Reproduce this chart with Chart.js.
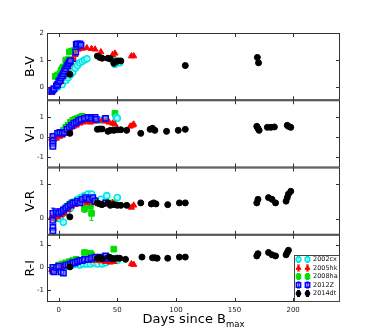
<!DOCTYPE html>
<html>
<head>
<meta charset="utf-8">
<script src="https://cdn.jsdelivr.net/npm/chart.js@4.4.0/dist/chart.umd.min.js"></script>
<style>
html, body { margin: 0; padding: 0; background: #fff; }
</style>
</head>
<body>
<canvas id="myChart" width="378" height="336"></canvas>
<script>
// colour curves, [day, colour, error]
var names = ["2002cx", "2005hk", "2008ha", "2012Z", "2014dt"];
var panels = ["B-V", "V-I", "V-R", "R-I"];
var xTicks = [0, 50, 100, 150, 200];

var cx02_BV = [[-1,0.0],[3,0.1],[6,0.25],[8,0.35],[10,0.45],[12,0.55],[14,0.7],[16,0.8],[18,0.9],[20,0.95],[22,1.0],[24,1.05],[46,1.0],[48,0.85,0.12],[50,0.95],[52,0.9]];
var hk05_BV = [[-6,-0.2],[-4,-0.1],[-1,0.05],[2,0.2],[4,0.4],[6,0.55],[8,0.75],[10,0.9],[12,1.05],[14,1.2],[17,1.4],[20,1.43],[24,1.45],[28,1.42],[31,1.4],[36,1.3],[42,1.05],[46,1.2],[48,1.25],[62,1.15],[64,1.15]];
var ha08_BV = [[-3,0.4],[-1,0.45],[1,0.5],[2,0.62],[3,0.7],[4,0.75],[6,1.0],[8,1.02],[9,1.3],[11,1.33],[13,1.35],[15,1.5],[47,1.0]];
var z12_BV = [[-6,-0.15],[-5,-0.1],[-4,-0.05],[-2,0.05],[-1,0.1],[0,0.2],[1,0.25],[2,0.35],[3,0.42],[4,0.5],[5,0.6],[6,0.68],[7,0.78],[8,0.85],[9,0.92],[10,0.98],[14.5,1.3,0.35],[15,1.58],[16,1.6],[18,1.6],[19,1.55]];
var dt14_BV = [[9.5,0.48],[33,1.15],[35,1.1],[37,1.07],[42,1.07],[44,1.05],[47,0.88],[49,0.95],[51,0.97],[53,0.97],[108,0.8,0.07],[169.5,1.1],[170.5,0.9]];

var cx02_VI = [[-4,0.05],[0,0.1],[3,0.2],[6,0.35],[9,0.5],[12,0.6],[15,0.7],[18,0.8],[21,0.85],[33,0.85],[36,0.85],[39,0.9],[49,1.0],[50,0.95]];
var hk05_VI = [[-6,-0.05],[-4,-0.1],[-2,-0.05],[1,0.05],[3,0.1],[5,0.2],[7,0.3],[9,0.4],[11,0.5],[13,0.55],[15,0.6],[18,0.7],[21,0.75],[24,0.8],[27,0.75],[30,0.8],[33,0.85],[37,0.85],[40,0.8],[43,0.75],[46,0.7],[48,0.65],[61,0.55],[63,0.6],[64,0.65]];
var ha08_VI = [[2,0.25],[4,0.35],[6,0.5],[8,0.6],[10,0.75],[12,0.85],[14,0.9],[16,0.95],[18,1.0],[20,1.05],[24,0.95],[28,1.0],[48,1.2]];
var z12_VI = [[-5,0.05,0.15],[-5,-0.15],[-5,-0.3],[-5,-0.45],[-1,0.2],[1,0.25],[3,0.2],[5,0.25],[7,0.4],[9,0.5],[11,0.6],[13,0.7],[15,0.75],[17,0.85],[19,0.9],[22,0.95],[25,1.0],[28,0.95],[31,1.0],[32,0.9],[40,0.95]];
var dt14_VI = [[9.5,0.2],[33,0.4],[35,0.42],[37,0.42],[42,0.3],[44,0.35],[47,0.35],[50,0.38],[53,0.38],[58,0.35],[70,0.2],[78,0.4],[80,0.45],[82,0.35],[92,0.3],[102,0.35],[108,0.4],[169,0.55],[170,0.45],[171,0.35],[178,0.5],[181,0.5],[184,0.52],[195,0.6],[196,0.55],[198,0.5]];

var cx02_VR = [[-2,0.1],[1,0.0],[4,-0.1,0.08],[7,0.2],[10,0.3],[13,0.45],[16,0.55],[19,0.6],[22,0.65],[25,0.7],[28,0.7],[36,0.55],[41,0.65,0.1],[50,0.6]];
var hk05_VR = [[-6,0.05],[-4,0.0],[-1,0.05],[2,0.1],[5,0.15],[8,0.25],[11,0.35],[14,0.4],[17,0.45],[20,0.5],[24,0.45],[27,0.5],[30,0.45],[34,0.42],[38,0.4],[42,0.42],[46,0.45],[62,0.32],[64,0.38]];
var ha08_VR = [[-2,0.0],[1,0.05],[3,0.15],[5,0.25],[7,0.35],[9,0.4],[11,0.45],[13,0.48],[16,0.5],[22,0.28,0.1],[27,0.35],[28,0.15,0.2],[46,0.45],[48,0.4]];
var z12_VR = [[-5,0.15,0.15],[-5,-0.05],[-5,-0.25],[-5,-0.35],[-2,0.2],[0,0.15],[2,0.2],[4,0.25],[6,0.3],[8,0.35],[10,0.4],[12,0.45],[14,0.45],[16,0.5],[18,0.45],[20,0.55],[23,0.6],[26,0.55],[29,0.6],[31,0.5,0.1],[40,0.45]];
var dt14_VR = [[9.5,0.05],[33,0.45],[35,0.42],[37,0.4],[42,0.45],[44,0.38],[47,0.4],[50,0.38],[53,0.38],[58,0.38],[70,0.45],[79,0.42],[81,0.45],[83,0.42],[93,0.4],[103,0.45],[108,0.45],[169,0.45],[170,0.55],[179,0.6],[182,0.55],[185,0.45],[194,0.5],[195,0.6],[196,0.7],[198,0.78]];

var cx02_RI = [[-3,-0.1],[0,-0.05],[3,0.0],[6,0.05],[9,0.1],[12,0.1],[15,0.15],[18,0.1],[21,0.15],[24,0.15],[27,0.15],[30,0.2],[33,0.15],[37,0.15],[40,0.2],[49,0.4],[50,0.3]];
var hk05_RI = [[-6,-0.1],[-4,-0.15],[-2,-0.05],[1,0.0],[4,0.05],[7,0.1],[10,0.15],[13,0.2],[16,0.25],[20,0.25],[24,0.3],[28,0.3],[32,0.3],[36,0.28],[40,0.25],[44,0.22],[47,0.25],[62,0.15],[64,0.12]];
var ha08_RI = [[0,0.1],[3,0.15],[6,0.2],[9,0.25],[12,0.3],[15,0.35],[18,0.3],[22,0.65],[27,0.62],[28,0.55],[47,0.8]];
var z12_RI = [[-5,0.0],[-5,-0.15],[-4,-0.2],[-2,0.0],[0,0.05],[2,-0.2],[4,-0.25],[6,0.1],[8,0.1],[10,0.15],[12,0.2],[14,0.2],[16,0.25],[18,0.3],[20,0.3],[22,0.35],[25,0.35],[28,0.4],[31,0.45],[36,0.45],[40,0.5],[42,0.4]];
var dt14_RI = [[9.5,0.02],[33,0.4],[35,0.42],[37,0.38],[43,0.45],[45,0.4],[47,0.38],[50,0.4],[52,0.4],[57,0.35],[71,0.45],[80,0.42],[82,0.42],[84,0.4],[93,0.4],[103,0.45],[108,0.45],[169,0.5],[170,0.6],[179,0.65],[182,0.55],[185,0.5],[194,0.55],[195,0.65],[196,0.75]];

var FONT = "'DejaVu Sans', sans-serif";

// marker look per supernova
var styles = [
    { color: "#00e5e5", fill: "rgba(170,255,255,0.7)", shape: "circle", r: 3, bw: 1.5, order: 3 },
    { color: "#ff0000", fill: "#ff0000", shape: "triangle", r: 3.5, bw: 1, order: 2 },
    { color: "#00dd00", fill: "#00dd00", shape: "rect", r: 4, bw: 1, order: 4 },
    { color: "#0000ff", fill: "rgba(120,120,255,0.55)", shape: "rect", r: 3.8, bw: 1.5, order: 1 },
    { color: "#000000", fill: "#000000", shape: "circle", r: 3, bw: 1, order: 0 }
];

var panelData = [
    [cx02_BV, hk05_BV, ha08_BV, z12_BV, dt14_BV],
    [cx02_VI, hk05_VI, ha08_VI, z12_VI, dt14_VI],
    [cx02_VR, hk05_VR, ha08_VR, z12_VR, dt14_VR],
    [cx02_RI, hk05_RI, ha08_RI, z12_RI, dt14_RI]
];
var yIds = ["yBV", "yVI", "yVR", "yRI"];
var yMin = [-0.48, -1.5, -0.46, -1.52];
var yMax = [2.0, 1.85, 1.46, 1.43];
var yTicks = [[0, 1, 2], [-1, 0, 1], [0, 1], [-1, 0, 1]];

var datasets = [];
for (var p = 0; p < 4; p++) {
    for (var s = 0; s < 5; s++) {
        var st = styles[s];
        datasets.push({
            label: names[s],
            yAxisID: yIds[p],
            data: panelData[p][s].map(function (d) { return { x: d[0], y: d[1], e: d[2] || 0 }; }),
            pointStyle: st.shape,
            pointRadius: st.r,
            pointHoverRadius: st.r,
            borderColor: st.color,
            backgroundColor: st.fill,
            borderWidth: st.bw,
            order: st.order
        });
    }
}

function yAxis(i) {
    return {
        type: "linear",
        position: "left",
        stack: "panels",
        weight: 4 - i,
        min: yMin[i],
        max: yMax[i],
        afterBuildTicks: function (sc) { sc.ticks = yTicks[i].map(function (v) { return { value: v }; }); },
        afterFit: function (sc) { sc.width = 47; },
        grid: { display: false, drawTicks: false },
        border: { display: false },
        ticks: { font: { family: FONT, size: 7 }, color: "#222", padding: 3 },
        title: { display: true, text: panels[i], color: "#000", font: { family: FONT, size: 12.5 }, padding: { top: 23, bottom: 0 } }
    };
}

var scales = {
    x: {
        type: "linear",
        position: "bottom",
        min: -10,
        max: 240,
        afterBuildTicks: function (sc) { sc.ticks = xTicks.map(function (v) { return { value: v }; }); },
        afterFit: function (sc) { sc.height = 34; },
        grid: { display: false, drawTicks: false },
        border: { display: false },
        ticks: { font: { family: FONT, size: 7 }, color: "#222", padding: 4 }
    }
};
for (var i = 0; i < 4; i++) scales[yIds[i]] = yAxis(i);

// error bars under the markers
var errBars = {
    id: "errBars",
    beforeDatasetsDraw: function (chart) {
        var ctx = chart.ctx;
        ctx.save();
        chart.data.datasets.forEach(function (ds, di) {
            var meta = chart.getDatasetMeta(di);
            var ys = chart.scales[ds.yAxisID];
            ctx.strokeStyle = ds.borderColor;
            ctx.lineWidth = 1;
            ds.data.forEach(function (pt, k) {
                if (!pt.e) return;
                var el = meta.data[k];
                var y1 = ys.getPixelForValue(pt.y + pt.e), y2 = ys.getPixelForValue(pt.y - pt.e);
                ctx.beginPath();
                ctx.moveTo(el.x, y1); ctx.lineTo(el.x, y2);
                ctx.moveTo(el.x - 2, y1); ctx.lineTo(el.x + 2, y1);
                ctx.moveTo(el.x - 2, y2); ctx.lineTo(el.x + 2, y2);
                ctx.stroke();
            });
        });
        ctx.restore();
    }
};

// panel frames with inward ticks, legend and x title
var frames = {
    id: "frames",
    afterDraw: function (chart) {
        var ctx = chart.ctx, a = chart.chartArea, xs = chart.scales.x;
        ctx.save();
        ctx.strokeStyle = "#333";
        ctx.lineWidth = 1;
        yIds.forEach(function (id, i) {
            var ys = chart.scales[id];
            ctx.strokeRect(a.left + 0.5, ys.top + 0.5, a.right - a.left - 1, ys.bottom - ys.top - 1);
            ctx.beginPath();
            yTicks[i].forEach(function (v) {
                var py = Math.round(ys.getPixelForValue(v)) + 0.5;
                ctx.moveTo(a.left, py); ctx.lineTo(a.left + 4, py);
                ctx.moveTo(a.right, py); ctx.lineTo(a.right - 4, py);
            });
            xTicks.forEach(function (v) {
                var px = Math.round(xs.getPixelForValue(v)) + 0.5;
                ctx.moveTo(px, ys.top); ctx.lineTo(px, ys.top + 4);
                ctx.moveTo(px, ys.bottom); ctx.lineTo(px, ys.bottom - 4);
            });
            ctx.stroke();
        });

        // legend
        var lx = 294, ly = 255, lw = a.right - 294, lh = a.bottom - 255;
        ctx.fillStyle = "#fff";
        ctx.fillRect(lx, ly, lw, lh);
        ctx.strokeStyle = "#444";
        ctx.strokeRect(lx + 0.5, ly + 0.5, lw - 1, lh - 1);
        ctx.font = "6.5px " + FONT;
        ctx.textBaseline = "middle";
        names.forEach(function (n, j) {
            var st = styles[j], cy = 259.5 + j * 8.5;
            [298.5, 307.5].forEach(function (mx) {
                ctx.strokeStyle = st.color;
                ctx.lineWidth = 1;
                ctx.beginPath();
                ctx.moveTo(mx, cy - 3); ctx.lineTo(mx, cy + 3);
                ctx.moveTo(mx - 1.5, cy - 3); ctx.lineTo(mx + 1.5, cy - 3);
                ctx.moveTo(mx - 1.5, cy + 3); ctx.lineTo(mx + 1.5, cy + 3);
                ctx.stroke();
                ctx.fillStyle = st.fill;
                ctx.lineWidth = st.bw;
                Chart.helpers.drawPoint(ctx, { pointStyle: st.shape, radius: st.r * 0.8, borderWidth: st.bw, rotation: 0 }, mx, cy);
            });
            ctx.fillStyle = "#111";
            ctx.textAlign = "left";
            ctx.fillText(n, 313, cy);
        });

        // x title with subscript
        var main = "Days since B", sub = "max";
        ctx.font = "13px " + FONT;
        var w1 = ctx.measureText(main).width;
        ctx.font = "8.5px " + FONT;
        var w2 = ctx.measureText(sub).width;
        var x0 = (a.left + a.right) / 2 - (w1 + w2) / 2;
        ctx.fillStyle = "#000";
        ctx.textBaseline = "alphabetic";
        ctx.font = "13px " + FONT;
        ctx.fillText(main, x0, 323);
        ctx.font = "8.5px " + FONT;
        ctx.fillText(sub, x0 + w1, 327);
        ctx.restore();
    }
};

var chart = new Chart(document.getElementById("myChart"), {
    type: "scatter",
    data: { datasets: datasets },
    options: {
        responsive: false,
        animation: false,
        devicePixelRatio: 1,
        layout: { padding: { left: 0, right: 38, top: 33, bottom: 0 } },
        plugins: { legend: { display: false }, tooltip: { enabled: false } },
        scales: scales
    },
    plugins: [errBars, frames]
});
</script>
</body>
</html>
